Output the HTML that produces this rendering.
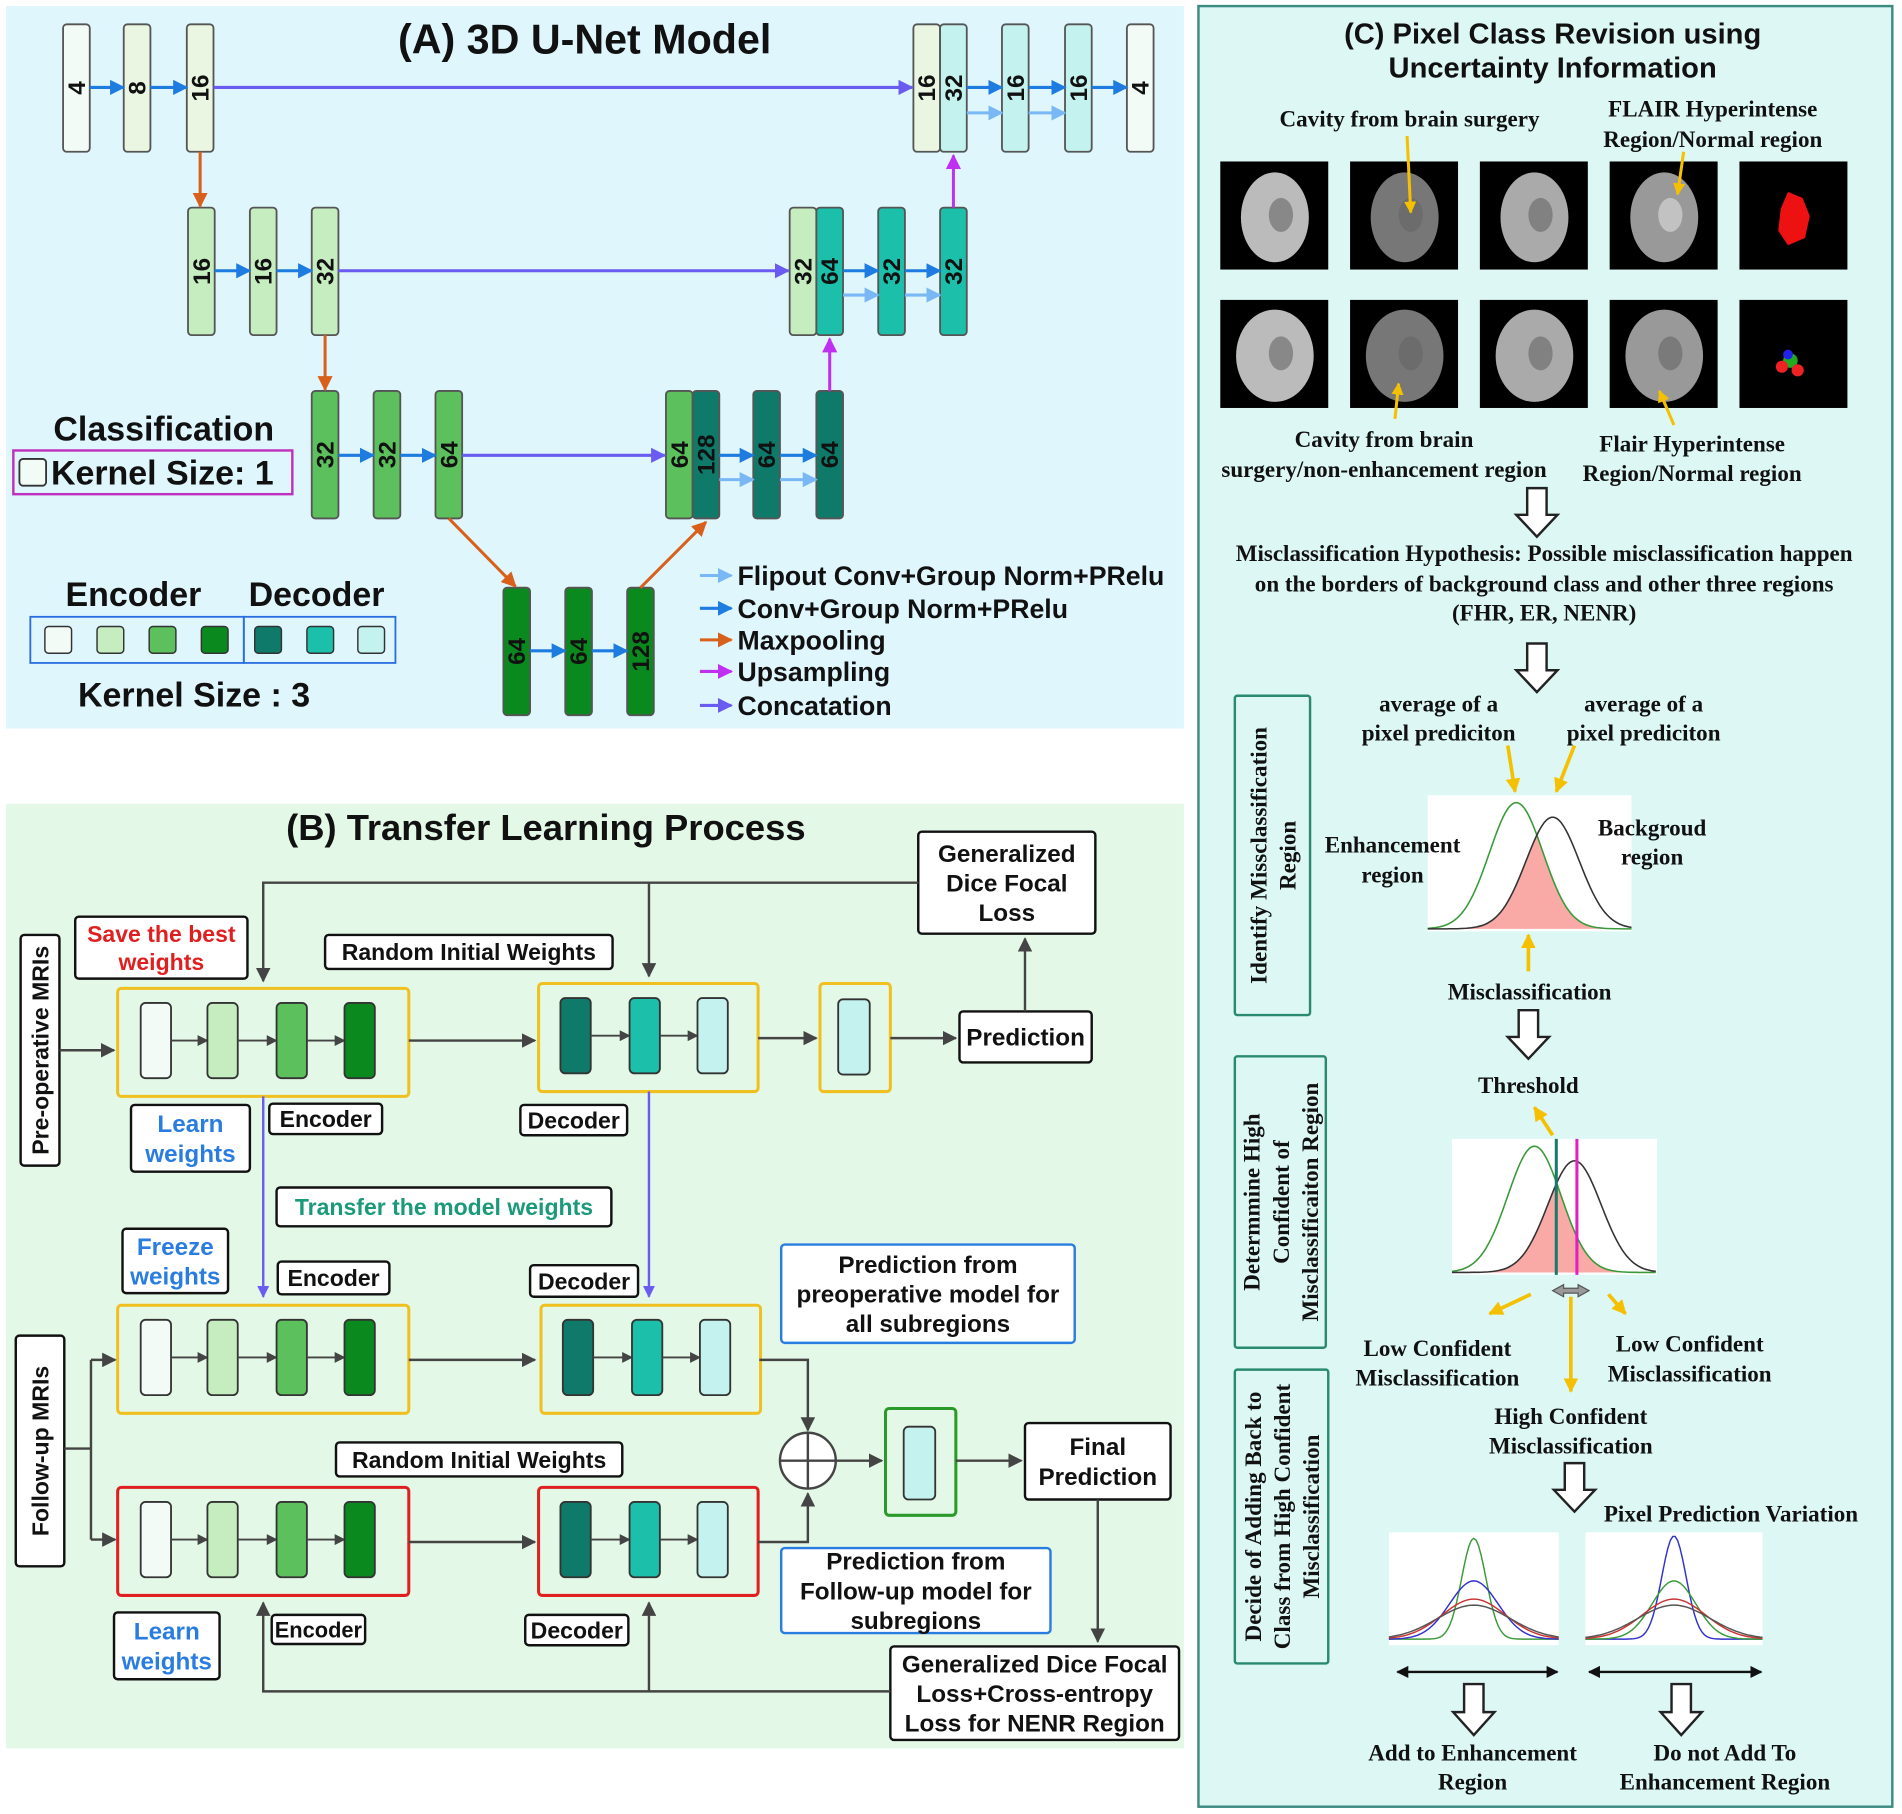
<!DOCTYPE html>
<html><head><meta charset="utf-8"><style>
html,body{margin:0;padding:0;background:#fff;width:1902px;height:1814px;overflow:hidden}
svg{display:block}
.s{font-family:"Liberation Sans",sans-serif;font-weight:bold;fill:#111}
.r{font-family:"Liberation Serif",serif;font-weight:bold;fill:#111}
</style></head><body>
<svg id="g" width="1902" height="1814" viewBox="0 0 1568 1494" preserveAspectRatio="none" xmlns="http://www.w3.org/2000/svg">
<defs>
<marker id="mb" viewBox="0 0 10 10" refX="9" refY="5" markerWidth="5" markerHeight="5" orient="auto"><path d="M0,0L10,5L0,10z" fill="#1e7be0"/></marker>
<marker id="ml" viewBox="0 0 10 10" refX="9" refY="5" markerWidth="5" markerHeight="5" orient="auto"><path d="M0,0L10,5L0,10z" fill="#7ab8f5"/></marker>
<marker id="mp" viewBox="0 0 10 10" refX="9" refY="5" markerWidth="5" markerHeight="5" orient="auto"><path d="M0,0L10,5L0,10z" fill="#6a5cf0"/></marker>
<marker id="mo" viewBox="0 0 10 10" refX="9" refY="5" markerWidth="5" markerHeight="5" orient="auto"><path d="M0,0L10,5L0,10z" fill="#d9601a"/></marker>
<marker id="mm" viewBox="0 0 10 10" refX="9" refY="5" markerWidth="5" markerHeight="5" orient="auto"><path d="M0,0L10,5L0,10z" fill="#c030f0"/></marker>
<marker id="mk" viewBox="0 0 10 10" refX="9" refY="5" markerWidth="6" markerHeight="6" orient="auto"><path d="M0,0L10,5L0,10z" fill="#444"/></marker>
<marker id="my" viewBox="0 0 10 10" refX="9" refY="5" markerWidth="4" markerHeight="4" orient="auto"><path d="M0,0L10,5L0,10z" fill="#f5c000"/></marker>
<marker id="mk2" viewBox="0 0 10 10" refX="9" refY="5" markerWidth="5" markerHeight="5" orient="auto-start-reverse"><path d="M0,0L10,5L0,10z" fill="#111"/></marker>
</defs>
</svg>
<script>
const g=document.getElementById('g');let h='';
const C={c1:'#eaf6e2',c2:'#c6edc0',c3:'#5cc05c',c4:'#0a8a1e',d1:'#0f7a6a',d2:'#1bbfaa',d3:'#c4f2ee',w:'#f2fbf6'};
function R(x,y,w,hh,f,s,sw,rx){h+=`<rect x="${x}" y="${y}" width="${w}" height="${hh}" fill="${f}" stroke="${s||'none'}" stroke-width="${sw||1}" rx="${rx||0}"/>`}
function T(x,y,t,cls,sz,fill,anch,rot){h+=`<text x="${x}" y="${y}" class="${cls}" font-size="${sz}" text-anchor="${anch||'middle'}" ${fill?`style="fill:${fill}"`:''} ${rot?`transform="rotate(-90 ${x} ${y})"`:''}>${t}</text>`}
function L(x1,y1,x2,y2,c,m,w){h+=`<line x1="${x1}" y1="${y1}" x2="${x2}" y2="${y2}" stroke="${c}" stroke-width="${w||2.5}" ${m?`marker-end="url(#${m})"`:''}/>`}
function P(d,c,w,m,f){h+=`<path d="${d}" fill="${f||'none'}" stroke="${c}" stroke-width="${w||2}" ${m?`marker-end="url(#${m})"`:''}/>`}
function B(x,y,f,lab,hh){hh=hh||105;R(x,y,22,hh,f,'#555',1.5,3);T(x+18,y+hh/2,lab,'s',20,'#111','middle',1)}
// Panel A
R(5,5,971,595,'#dff6fd');
T(482,44,'(A) 3D U-Net Model','s',34);
[[52,C.w,'4'],[102,C.c1,'8'],[154,C.c1,'16'],[753,C.c1,'16'],[775,C.d3,'32'],[826,C.d3,'16'],[878,C.d3,'16'],[929,C.w,'4']].forEach(a=>B(a[0],20,a[1],a[2]));
[[155,C.c2,'16'],[206,C.c2,'16'],[257,C.c2,'32'],[651,C.c2,'32'],[673,C.d2,'64'],[724,C.d2,'32'],[775,C.d2,'32']].forEach(a=>B(a[0],171,a[1],a[2]));
[[257,C.c3,'32'],[308,C.c3,'32'],[359,C.c3,'64'],[549,C.c3,'64'],[571,C.d1,'128'],[621,C.d1,'64'],[673,C.d1,'64']].forEach(a=>B(a[0],322,a[1],a[2]));
[[415,C.c4,'64'],[466,C.c4,'64'],[517,C.c4,'128']].forEach(a=>B(a[0],484,a[1],a[2]));
[[74,102,72],[124,154,72],[797,826,72],[848,878,72],[900,929,72],[177,206,223],[228,257,223],[695,724,223],[746,775,223],[279,308,375],[330,359,375],[593,621,375],[643,673,375],[437,466,536],[488,517,536]].forEach(a=>L(a[0],a[2],a[1],a[2],'#1e7be0','mb'));
[[797,826,93],[848,878,93],[695,724,243],[746,775,243],[593,621,395],[643,673,395]].forEach(a=>L(a[0],a[2],a[1],a[2],'#7ab8f5','ml'));
L(176,72,752,72,'#6a5cf0','mp');L(279,223,650,223,'#6a5cf0','mp');L(381,375,548,375,'#6a5cf0','mp');
L(165,125,165,170,'#d9601a','mo');L(268,276,268,321,'#d9601a','mo');L(370,427,425,483,'#d9601a','mo');L(528,484,582,430,'#d9601a','mo');
L(684,322,684,279,'#c030f0','mm');L(786,171,786,128,'#c030f0','mm');
T(135,363,'Classification','s',28);R(11,371,230,36,'none','#c030c0',2);R(16,378,22,22,C.w,'#333',1.5,3);T(42,399,'Kernel Size: 1','s',28,null,'start');
T(110,499,'Encoder','s',28);T(261,499,'Decoder','s',28);
R(25,508,176,38,'none','#2a6ee0',1.5);R(201,508,125,38,'none','#2a6ee0',1.5);
[[37,C.w],[80,C.c2],[123,C.c3],[166,C.c4],[210,C.d1],[253,C.d2],[295,C.d3]].forEach(a=>R(a[0],516,22,22,a[1],'#333',1.2,3));
T(160,582,'Kernel Size : 3','s',28);
[[475,'#7ab8f5','ml','Flipout Conv+Group Norm+PRelu'],[502,'#1e7be0','mb','Conv+Group Norm+PRelu'],[528,'#d9601a','mo','Maxpooling'],[554,'#c030f0','mm','Upsampling'],[582,'#6a5cf0','mp','Concatation']].forEach(a=>{L(577,a[0]-1,603,a[0]-1,a[1],a[2]);T(608,a[0]+7,a[3],'s',22,null,'start')});
// Panel B
R(5,662,971,778,'#e3f8e6');
T(450,692,'(B) Transfer Learning Process','s',30);
function BX(x,y,w,hh,lines,sz,col,st,sw){R(x,y,w,hh,'#fff',st||'#111',sw||2,3);const n=lines.length,lh=sz*1.22;lines.forEach((t,i)=>T(x+w/2,y+hh/2+(i-(n-1)/2)*lh+sz*0.36,t,'s',sz,col))}
BX(757,685,146,84,['Generalized','Dice Focal','Loss'],20);
P('M757,727 H217 V808','#444',2,'mk');L(535,727,535,804,'#444','mk',2);
BX(62,755,142,51,['Save the best','weights'],19,'#e02020');
BX(268,770,237,28,['Random Initial Weights'],19);
R(17,770,32,190,'#fff','#111',2,3);T(40,865,'Pre-operative MRIs','s',19,null,'middle',1);
L(49,865,94,865,'#444','mk',2);
function ENC(x,y,st){R(x,y,240,89,'none',st,2.5,3);const bx=[19,74,131,187],cf=[C.w,C.c2,C.c3,C.c4];bx.forEach((b,i)=>{R(x+b,y+12,25,62,cf[i],'#333',1.5,4);if(i<3)L(x+b+25,y+43,x+bx[i+1],y+43,'#444','mk',1.5)})}
function DEC(x,y,st){R(x,y,181,89,'none',st,2.5,3);const bx=[18,75,131],cf=[C.d1,C.d2,C.d3];bx.forEach((b,i)=>{R(x+b,y+12,25,62,cf[i],'#333',1.5,4);if(i<2)L(x+b+25,y+43,x+bx[i+1],y+43,'#444','mk',1.5)})}
ENC(97,814,'#f0c020');L(337,857,441,857,'#444','mk',2);DEC(444,810,'#f0c020');
L(625,855,673,855,'#444','mk',2);R(676,810,58,89,'none','#f0c020',2.5,3);R(691,823,26,62,C.d3,'#333',1.5,4);L(734,855,788,855,'#444','mk',2);
BX(791,833,109,42,['Prediction'],20);L(845,833,845,773,'#444','mk',2);
BX(108,910,98,55,['Learn','weights'],20,'#2a7de0');BX(222,909,93,25,['Encoder'],19);BX(429,910,88,25,['Decoder'],19);
L(217,903,217,1068,'#6a5cf0','mp',2);L(535,899,535,1068,'#6a5cf0','mp',2);
BX(228,978,276,32,['Transfer the model weights'],19,'#1a9a7a');
BX(101,1012,87,53,['Freeze','weights'],20,'#2a7de0');BX(229,1039,92,27,['Encoder'],19);BX(437,1042,89,26,['Decoder'],19);
BX(644,1025,242,81,['Prediction from','preoperative model for','all subregions'],20,null,'#2a7de0');
ENC(97,1075,'#f0c020');L(337,1120,441,1120,'#444','mk',2);DEC(446,1075,'#f0c020');
P('M626,1120 H666 V1178','#444',2,'mk');
h+=`<circle cx="666" cy="1203" r="23" fill="#fff" stroke="#444" stroke-width="2"/>`;L(643,1203,689,1203,'#444',null,2);L(666,1180,666,1226,'#444',null,2);
R(13,1100,40,190,'#fff','#111',2,3);T(40,1195,'Follow-up MRIs','s',19,null,'middle',1);
L(53,1193,75,1193,'#444',null,2);L(75,1120,75,1268,'#444',null,2);L(75,1120,95,1120,'#444','mk',2);L(75,1268,95,1268,'#444','mk',2);
BX(277,1188,236,28,['Random Initial Weights'],19);
ENC(97,1225,'#e02020');L(337,1270,441,1270,'#444','mk',2);DEC(444,1225,'#e02020');
P('M625,1270 H666 V1230','#444',2,'mk');
L(689,1203,727,1203,'#444','mk',2);R(730,1160,58,88,'none','#2a9a2a',2.5,3);R(745,1175,26,60,C.d3,'#333',1.5,4);L(788,1203,842,1203,'#444','mk',2);
BX(845,1172,120,63,['Final','Prediction'],20);L(905,1235,905,1352,'#444','mk',2);
BX(644,1275,222,70,['Prediction from','Follow-up model for','subregions'],20,null,'#2a7de0');
BX(94,1328,87,55,['Learn','weights'],20,'#2a7de0');BX(224,1330,77,24,['Encoder'],18);BX(433,1330,85,25,['Decoder'],19);
BX(734,1356,238,77,['Generalized Dice Focal','Loss+Cross-entropy','Loss for NENR Region'],20);
P('M734,1393 H217 V1320','#444',2,'mk');L(535,1393,535,1320,'#444','mk',2);
// Panel C
R(988,5,572,1483,'#dcf7f4','#3c8a80',2);
T(1280,36,'(C) Pixel Class Revision using','s',24);T(1280,64,'Uncertainty Information','s',24);
T(1162,104,'Cavity from brain surgery','r',19);T(1412,96,'FLAIR Hyperintense','r',19);T(1412,121,'Region/Normal region','r',19);
[133,247].forEach((y,ri)=>{[1006,1113,1220,1327,1434].forEach((x,ci)=>{R(x,y,89,89,'#000');if(ci<4){const gr=['#bbb','#777','#aaa','#999'][ci];h+=`<ellipse cx="${x+45}" cy="${y+46}" rx="${ri?32:28}" ry="${ri?38:37}" fill="${gr}"/>`;h+=`<ellipse cx="${x+50}" cy="${y+44}" rx="10" ry="14" fill="${ci==3&&!ri?'#ddd':'#666'}" opacity="0.6"/>`}else{h+=ri?`<circle cx="${x+42}" cy="${y+50}" r="6" fill="#2a2"/><circle cx="${x+35}" cy="${y+55}" r="5" fill="#e22"/><circle cx="${x+48}" cy="${y+58}" r="5" fill="#e22"/><circle cx="${x+40}" cy="${y+45}" r="4" fill="#22e"/>`:`<path d="M${x+40},${y+25} l12,5 l6,15 l-4,18 l-14,6 l-8,-12 l2,-18z" fill="#e11"/>`}})});
L(1160,112,1163,175,'#f5c000','my',2.5);L(1388,125,1383,160,'#f5c000','my',2.5);L(1150,345,1153,316,'#f5c000','my',2.5);L(1380,350,1368,322,'#f5c000','my',2.5);
T(1141,368,'Cavity from brain','r',19);T(1141,393,'surgery/non-enhancement region','r',19);T(1395,372,'Flair Hyperintense','r',19);T(1395,396,'Region/Normal region','r',19);
function HA(cx,y,hh){const s=hh*0.55;P(`M${cx-8},${y} H${cx+8} V${y+s} H${cx+17} L${cx},${y+hh} L${cx-17},${y+s} H${cx-8}Z`,'#222',2,null,'#fff')}
HA(1267,402,40);
T(1273,462,'Misclassification Hypothesis: Possible misclassification happen','r',19);T(1273,487,'on the borders of background class and other three regions','r',19);T(1273,511,'(FHR, ER, NENR)','r',19);
HA(1267,530,40);
function SB(x,y,w,hh,lines){R(x,y,w,hh,'none','#2a8a70',2,2);const n=lines.length;lines.forEach((t,i)=>T(x+w/2+(i-(n-1)/2)*24+7,y+hh/2,t,'r',19,null,'middle',1))}
SB(1018,573,62,263,['Identify Missclassification','Region']);
T(1186,586,'average of a','r',19);T(1186,610,'pixel prediciton','r',19);T(1355,586,'average of a','r',19);T(1355,610,'pixel prediciton','r',19);
L(1243,614,1249,652,'#f5c000','my',3);L(1298,614,1283,652,'#f5c000','my',3);
function GC(cx,sd,y0,top,x0,x1){let d='';for(let x=x0;x<=x1;x+=2){const yy=y0-(y0-top)*Math.exp(-((x-cx)*(x-cx))/(2*sd*sd));d+=(x==x0?'M':'L')+x+','+yy.toFixed(1)}return d}
function CH(x,y,w,hh,c1,c2){R(x,y,w,hh,'#fff');const y0=y+hh-2;let d='';for(let xx=x;xx<=x+w;xx+=2){const a=y0-(y0-y-6)*Math.exp(-((xx-c1)**2)/(2*22*22)),b=y0-(y0-y-18)*Math.exp(-((xx-c2)**2)/(2*22*22));d+=(xx==x?'M':'L')+xx+','+Math.max(a,b).toFixed(1)}d+=`L${x+w},${y0}L${x},${y0}Z`;P(d,'none',0,null,'#f9a9a6');P(GC(c1,22,y0,y+6,x,x+w),'#3a9a3a',1.3);P(GC(c2,22,y0,y+18,x,x+w),'#333',1.3)}
CH(1177,655,168,112,1250,1280);
T(1148,702,'Enhancement','r',19);T(1148,727,'region','r',19);T(1362,688,'Backgroud','r',19);T(1362,712,'region','r',19);
L(1260,800,1260,770,'#f5c000','my',3);T(1261,823,'Misclassification','r',19);
HA(1260,832,40);T(1260,900,'Threshold','r',19);
SB(1018,870,75,240,['Determmine High','Confident of','Misclassificaiton Region']);
L(1280,935,1265,912,'#f5c000','my',3);
CH(1197,938,169,112,1265,1298);L(1283,938,1283,1050,'#1a7a6a',null,2.5);L(1300,938,1300,1050,'#e020c0',null,2.5);
P('M1280,1063 L1289,1058 V1061 H1301 V1058 L1310,1063 L1301,1068 V1065 H1289 V1068 Z','#555',1,null,'#999');
L(1262,1066,1228,1082,'#f5c000','my',3);L(1326,1066,1340,1082,'#f5c000','my',3);L(1295,1068,1295,1146,'#f5c000','my',3);
T(1185,1117,'Low Confident','r',19);T(1185,1141,'Misclassification','r',19);T(1393,1113,'Low Confident','r',19);T(1393,1138,'Misclassification','r',19);
T(1295,1173,'High Confident','r',19);T(1295,1197,'Misclassification','r',19);
SB(1018,1128,77,242,['Decide of Adding Back to','Class from High Confident','Misclassification']);
HA(1298,1205,40);T(1427,1253,'Pixel Prediction Variation','r',19);
function VC(x,y,w,hh,cols){R(x,y,w,hh,'#fff');const cx=x+w/2,y0=y+hh-5;cols.forEach(c=>P(GC(cx,c[1],y0,y+c[2],x,x+w),c[0],1.2))}
VC(1145,1262,140,93,[['#3a9a3a',10,5],['#33c',20,40],['#c33',26,55],['#555',30,60]]);
VC(1307,1262,146,93,[['#33c',10,3],['#3a9a3a',18,40],['#c33',26,55],['#555',30,60]]);
h+=`<line x1="1152" y1="1377" x2="1284" y2="1377" stroke="#111" stroke-width="2" marker-start="url(#mk2)" marker-end="url(#mk2)"/><line x1="1310" y1="1377" x2="1452" y2="1377" stroke="#111" stroke-width="2" marker-start="url(#mk2)" marker-end="url(#mk2)"/>`;
HA(1215,1387,42);HA(1386,1387,42);
T(1214,1450,'Add to Enhancement','r',19);T(1214,1474,'Region','r',19);T(1422,1450,'Do not Add To','r',19);T(1422,1474,'Enhancement Region','r',19);
g.innerHTML+=h;
</script>
</body></html>
